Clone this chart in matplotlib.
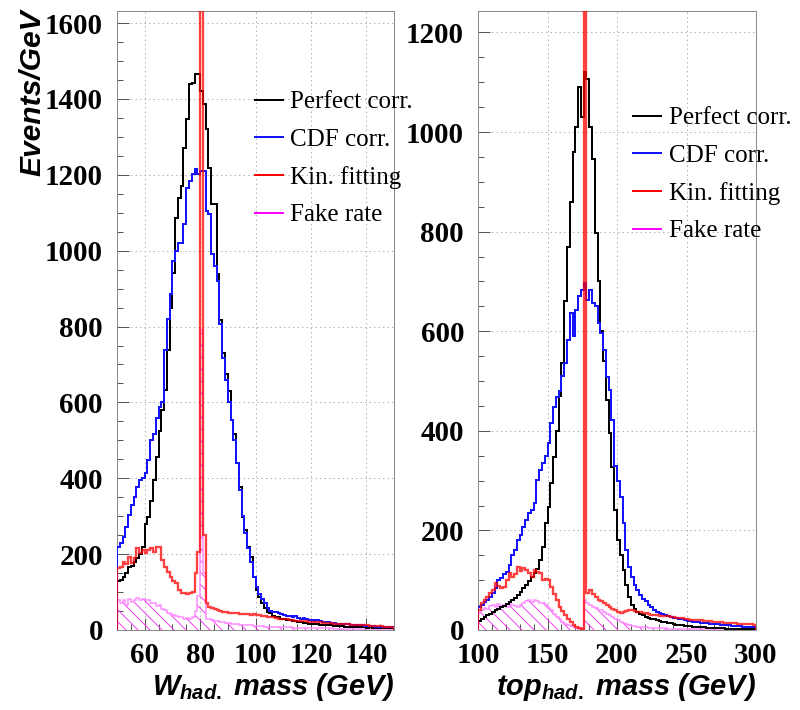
import numpy as np
import matplotlib
matplotlib.use("Agg")
import matplotlib.pyplot as plt
from matplotlib.lines import Line2D
from matplotlib.ticker import MultipleLocator

# ---------------- hadronic W mass, 1 GeV bins from 50 to 150 GeV ----------------
w_edges = np.arange(50, 151, 1)

w_perfect = [130, 132, 140, 150, 165, 170, 180, 190, 200, 218,
             280, 297, 340, 395, 455, 525, 580, 632, 737, 850,
             942, 1087, 1140, 1171, 1271, 1347, 1440, 1443, 1465, 1465,
             1420, 1387, 1321, 1218, 1124, 1124, 939, 816, 729, 676,
             631, 553, 518, 439, 376, 297, 263, 218, 192, 139,
             105, 87, 70, 58, 47, 44, 38, 34, 35, 30,
             28, 27, 26, 24, 25, 21, 20, 19, 18, 17,
             17, 15, 16, 14, 13, 14, 12, 12, 11, 11,
             10, 10, 9, 9, 8, 9, 8, 7, 8, 7,
             6, 7, 6, 6, 5, 5, 5, 4, 5, 4]

w_cdf = [218, 230, 245, 271, 303, 329, 350, 376, 395, 400,
         413, 447, 500, 518, 560, 587, 600, 737, 821, 887,
         974, 1000, 1021, 1021, 1071, 1166, 1184, 1202, 1216, 1202,
         1210, 1210, 1105, 1097, 992, 960, 921, 808, 718, 658,
         600, 553, 500, 439, 370, 300, 255, 215, 180, 140,
         114, 96, 83, 70, 58, 50, 48, 47, 46, 42,
         40, 38, 37, 35, 36, 32, 30, 31, 28, 27,
         26, 25, 26, 23, 22, 21, 20, 19, 18, 17,
         17, 16, 15, 15, 14, 14, 13, 12, 12, 11,
         11, 10, 10, 9, 9, 9, 8, 8, 8, 7]

w_kinfit = [163, 165, 179, 175, 192, 176, 190, 216, 203, 211,
            203, 210, 216, 205, 218, 218, 184, 166, 153, 139,
            130, 123, 105, 97, 97, 95, 97, 100, 150, 205,
            6000, 250, 70, 60, 57, 55, 52, 50, 48, 47,
            45, 46, 44, 45, 43, 42, 41, 42, 40, 41,
            40, 39, 38, 36, 35, 34, 33, 31, 30, 30,
            29, 28, 27, 26, 25, 25, 24, 23, 23, 22,
            21, 21, 20, 20, 19, 19, 18, 18, 17, 17,
            16, 16, 15, 15, 14, 14, 13, 13, 12, 12,
            12, 11, 11, 10, 10, 10, 9, 9, 9, 8]

w_fake = [80, 70, 78, 65, 82, 75, 78, 85, 80, 82,
          78, 80, 70, 72, 62, 65, 55, 52, 45, 42,
          40, 38, 35, 33, 30, 32, 30, 35, 50, 90,
          790, 150, 30, 28, 26, 25, 24, 22, 20, 19,
          18, 17, 16, 15, 14, 14, 13, 12, 12, 11,
          11, 10, 10, 9, 9, 9, 8, 8, 8, 7,
          7, 7, 7, 6, 6, 6, 6, 5, 5, 5,
          5, 5, 4, 4, 4, 4, 4, 4, 3, 3,
          3, 3, 3, 3, 3, 3, 2, 2, 2, 2,
          2, 2, 2, 2, 2, 2, 2, 2, 2, 2]

# ---------------- hadronic top mass, 2 GeV bins from 100 to 300 GeV ----------------
top_edges = np.arange(100, 301, 2)

top_perfect = [18, 22, 26, 30, 33, 36, 40, 43, 46, 48,
               52, 56, 60, 64, 70, 76, 84, 90, 98, 106,
               115, 122, 141, 167, 215, 247, 295, 348, 400, 470,
               537, 660, 770, 860, 960, 1011, 1091, 1031, 1120, 1106,
               1011, 945, 798, 700, 600, 540, 462, 396, 328, 241,
               181, 150, 120, 90, 66, 50, 42, 36, 33, 30,
               26, 25, 23, 22, 20, 18, 17, 16, 15, 14,
               12, 11, 11, 10, 9, 8, 8, 7, 7, 6,
               6, 6, 5, 5, 5, 4, 4, 4, 4, 3,
               3, 3, 3, 3, 2, 2, 2, 2, 2, 2]

top_cdf = [46, 50, 56, 60, 66, 74, 85, 100, 104, 112,
           117, 130, 151, 160, 181, 190, 207, 220, 235, 241,
           255, 302, 322, 336, 350, 376, 416, 448, 468, 480,
           510, 537, 583, 637, 590, 643, 670, 683, 697, 663,
           683, 657, 650, 617, 597, 563, 509, 482, 422, 330,
           300, 268, 215, 161, 127, 107, 90, 80, 70, 62,
           58, 50, 46, 40, 36, 34, 32, 30, 28, 26,
           25, 24, 23, 22, 20, 19, 18, 17, 16, 16,
           15, 14, 14, 13, 13, 12, 12, 11, 11, 10,
           10, 9, 9, 8, 8, 7, 7, 6, 6, 6]

top_kinfit = [40, 54, 60, 66, 74, 80, 94, 88, 85, 87,
              100, 114, 107, 112, 127, 118, 125, 120, 115, 107,
              121, 116, 114, 100, 102, 100, 87, 72, 60, 46,
              38, 30, 22, 16, 10, 6, 4, 2, 8000, 74,
              80, 72, 66, 60, 58, 54, 50, 46, 42, 40,
              36, 34, 36, 38, 40, 40, 38, 37, 36, 35,
              34, 32, 31, 30, 30, 29, 28, 28, 28, 27,
              26, 25, 24, 24, 23, 22, 21, 21, 20, 20,
              20, 19, 18, 18, 17, 17, 16, 16, 15, 15,
              14, 14, 14, 13, 13, 13, 12, 12, 12, 11]

top_fake = [35, 40, 45, 42, 48, 50, 46, 52, 48, 50,
            46, 52, 50, 48, 46, 50, 54, 58, 60, 56,
            60, 58, 54, 55, 50, 45, 40, 33, 27, 22,
            16, 13, 11, 8, 6, 4, 3, 2, 60, 54,
            50, 46, 44, 40, 40, 36, 33, 30, 26, 22,
            20, 17, 14, 12, 10, 9, 8, 7, 7, 6,
            6, 5, 5, 5, 4, 4, 4, 4, 3, 3,
            3, 3, 3, 3, 3, 2, 2, 2, 2, 2,
            2, 2, 2, 2, 2, 2, 1, 1, 1, 1,
            1, 1, 1, 1, 1, 1, 1, 1, 1, 1]

series_labels = ["Perfect corr.", "CDF corr.", "Kin. fitting", "Fake rate"]
series_colors = ["#000000", "#1414ff", "#ff0000", "#ff00ff"]

plt.rcParams.update({
    "font.family": "serif",
    "font.serif": ["Liberation Serif", "DejaVu Serif"],
    "font.weight": "bold",
    "mathtext.fontset": "custom",
    "mathtext.it": "Liberation Sans:italic:bold",
    "mathtext.rm": "Liberation Sans:bold",
    "mathtext.bf": "Liberation Sans:bold",
    "hatch.linewidth": 1.0,
})

DPI = 72
fig = plt.figure(figsize=(800 / DPI, 710 / DPI), dpi=DPI)
ax_w = fig.add_axes([0.14625, 0.11268, 0.34625, 0.87183])
ax_t = fig.add_axes([0.5975, 0.11268, 0.3475, 0.87183])


def draw_panel(ax, edges, perfect, cdf, kinfit, fake):
    ax.stairs(fake, edges, fill=True, facecolor="none", edgecolor="#f040f0",
              hatch="\\\\", linewidth=0, zorder=1)
    ax.stairs(fake, edges, color="#ff8cff", linewidth=1.5, zorder=2)
    ax.stairs(perfect, edges, color=series_colors[0], linewidth=2, zorder=3)
    ax.stairs(cdf, edges, color=series_colors[1], linewidth=2, zorder=4)
    ax.stairs(kinfit, edges, color=series_colors[2], linewidth=2.3, alpha=0.75, zorder=5)


def style_axes(ax, edges, xmaj, xmin, ymax):
    ax.set_xlim(edges[0], edges[-1])
    ax.set_ylim(0, ymax)
    ax.xaxis.set_major_locator(MultipleLocator(xmaj))
    ax.xaxis.set_minor_locator(MultipleLocator(xmin))
    ax.yaxis.set_major_locator(MultipleLocator(200))
    ax.yaxis.set_minor_locator(MultipleLocator(50))
    ax.tick_params(which="both", direction="in", top=False, right=False,
                   color="#555555", width=1)
    ax.tick_params(which="major", length=12, labelsize=29)
    ax.tick_params(which="minor", length=6)
    ax.tick_params(axis="y", pad=14)
    ax.tick_params(axis="x", pad=12)
    ax.grid(True, which="major", color="#b4b4b4", linestyle=(0, (1.5, 3)), linewidth=1)
    ax.set_axisbelow(True)
    for sp in ax.spines.values():
        sp.set_color("#8a8a8a")
        sp.set_linewidth(1)


draw_panel(ax_w, w_edges, w_perfect, w_cdf, w_kinfit, w_fake)
draw_panel(ax_t, top_edges, top_perfect, top_cdf, top_kinfit, top_fake)
style_axes(ax_w, w_edges, 20, 5, 1632)
style_axes(ax_t, top_edges, 50, 10, 1243)

label_font = dict(fontfamily="Liberation Sans", fontstyle="italic",
                  fontweight="bold", fontsize=29)
ax_w.set_xlabel(r"$W_{had.}$ mass (GeV)", loc="right", **label_font)
ax_t.set_xlabel(r"$top_{had.}$ mass (GeV)", loc="right", **label_font)
ax_w.xaxis.set_label_coords(1.0, -0.066)
ax_t.xaxis.set_label_coords(1.0, -0.066)
ax_w.set_ylabel("Events/GeV", loc="top", fontfamily="Liberation Sans",
                fontstyle="italic", fontweight="bold", fontsize=30)
ax_w.yaxis.set_label_coords(-0.256, 1.003)

handles = [Line2D([], [], color=c, linewidth=2) for c in series_colors]
legend_font = {"family": "Liberation Serif", "weight": "normal", "size": 25}
for ax, anchor in ((ax_w, (0.498, 0.871)), (ax_t, (0.558, 0.845))):
    leg = ax.legend(handles, series_labels, loc="upper left", bbox_to_anchor=anchor,
                    frameon=False, prop=legend_font, handlelength=1.12,
                    handletextpad=0.3, labelspacing=0.6, borderpad=0,
                    borderaxespad=0)
    leg.set_zorder(10)

fig.savefig("out.png", dpi=DPI)
